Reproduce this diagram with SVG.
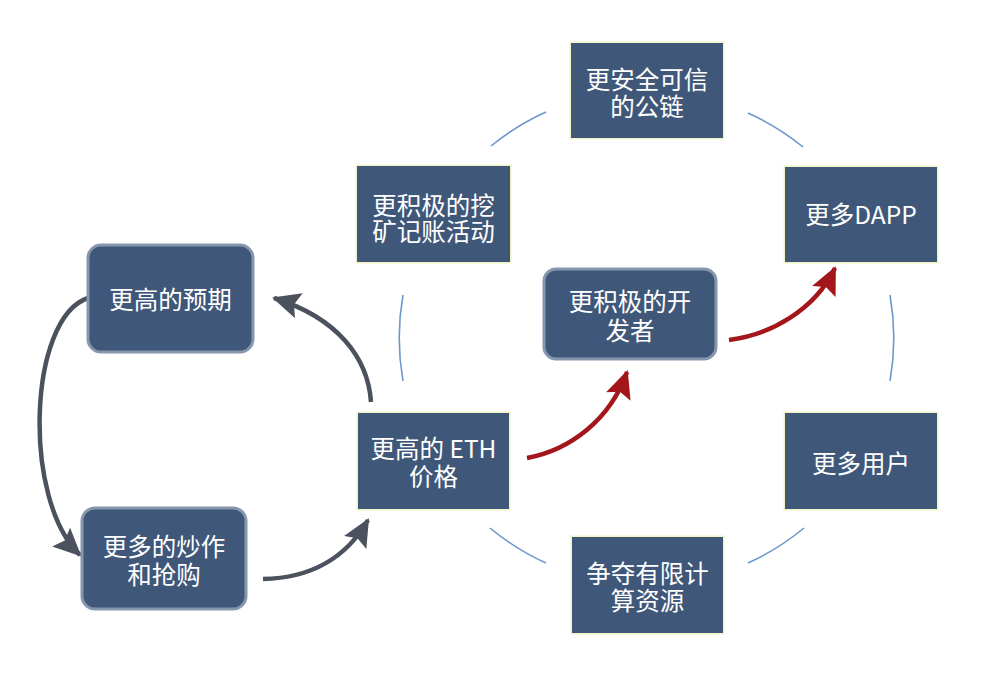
<svg xmlns="http://www.w3.org/2000/svg" width="1000" height="690" viewBox="0 0 1000 690">
<defs>
<style>
.box{fill:#3f5879;}
.glow{fill:#eef0b8;opacity:0.8;}
.rbox{fill:#3f5879;stroke:#8596ad;stroke-width:3;}
.t{fill:#ffffff;font-family:"Noto Sans CJK SC","Noto Sans",sans-serif;font-size:24.5px;text-anchor:middle;dominant-baseline:central;}
.arc{fill:none;stroke:#6b97cc;stroke-width:1.6;}
.gray{fill:none;stroke:#4b525d;stroke-width:4.5;}
.red{fill:none;stroke:#a3161a;stroke-width:4.5;}
</style>
<marker id="ag" markerUnits="userSpaceOnUse" markerWidth="28" markerHeight="26" refX="26" refY="13" orient="auto">
<path d="M0,0 L28,13 L0,26 L5,13 z" fill="#4b525d"/>
</marker>
<marker id="ar" markerUnits="userSpaceOnUse" markerWidth="28" markerHeight="26" refX="26" refY="13" orient="auto">
<path d="M0,0 L28,13 L0,26 L5,13 z" fill="#a3161a"/>
</marker>
</defs>
<rect width="1000" height="690" fill="#ffffff"/>
<g id="connectors">
<path class="arc" d="M491,146 A247,247 0 0 1 546,112"/>
<path class="arc" d="M748,113 A247,247 0 0 1 803,147"/>
<path class="arc" d="M890,295 A247,247 0 0 1 890,381"/>
<path class="arc" d="M804,528 A247,247 0 0 1 748,563"/>
<path class="arc" d="M546,563 A247,247 0 0 1 490,528"/>
<path class="arc" d="M403,381 A247,247 0 0 1 403,295"/>
<path class="gray" d="M371,402 C368,358 338,318 274,298" marker-end="url(#ag)"/>
<path class="gray" d="M88,298 C28,318 22,500 80,555" marker-end="url(#ag)"/>
<path class="gray" d="M263,579 C310,578 345,560 368,520" marker-end="url(#ag)"/>
<path class="red" d="M527,458 C570,450 610,420 627,372" marker-end="url(#ar)"/>
<path class="red" d="M729,340 C770,335 815,310 835,268" marker-end="url(#ar)"/>
</g>
<g id="n-chain">
<rect class="glow" x="569.5" y="41.5" width="155" height="98"/>
<rect class="box" x="571" y="43" width="152" height="95"/>
<text class="t" x="647"><tspan x="647" y="78">更安全可信</tspan><tspan x="647" y="105">的公链</tspan></text>
</g>
<g id="n-mining">
<rect class="glow" x="355.5" y="164.5" width="156" height="99"/>
<rect class="box" x="357" y="166" width="153" height="96"/>
<text class="t" x="433.5"><tspan x="433.5" y="204">更积极的挖</tspan><tspan x="433.5" y="230">矿记账活动</tspan></text>
</g>
<g id="n-dapp">
<rect class="glow" x="783.5" y="165.5" width="155" height="98"/>
<rect class="box" x="785" y="167" width="152" height="95"/>
<text class="t" x="861" y="213">更多DAPP</text>
</g>
<g id="n-users">
<rect class="glow" x="783.5" y="411.5" width="155" height="99"/>
<rect class="box" x="785" y="413" width="152" height="96"/>
<text class="t" x="861" y="462">更多用户</text>
</g>
<g id="n-compute">
<rect class="glow" x="570.5" y="535.5" width="154" height="99"/>
<rect class="box" x="572" y="537" width="151" height="96"/>
<text class="t" x="647.5"><tspan x="647.5" y="572">争夺有限计</tspan><tspan x="647.5" y="599">算资源</tspan></text>
</g>
<g id="n-eth">
<rect class="glow" x="356.5" y="411.5" width="154" height="99"/>
<rect class="box" x="358" y="413" width="151" height="96"/>
<text class="t" x="433.5"><tspan x="433.5" y="447">更高的 ETH</tspan><tspan x="433.5" y="475">价格</tspan></text>
</g>
<g id="n-dev">
<rect class="rbox" x="544" y="269" width="172" height="90" rx="12"/>
<text class="t" x="630"><tspan x="630" y="300">更积极的开</tspan><tspan x="630" y="329">发者</tspan></text>
</g>
<g id="n-expect">
<rect class="rbox" x="88" y="245" width="165" height="107" rx="13"/>
<text class="t" x="170.5" y="298">更高的预期</text>
</g>
<g id="n-hype">
<rect class="rbox" x="82" y="508" width="164" height="101" rx="13"/>
<text class="t" x="164"><tspan x="164" y="545">更多的炒作</tspan><tspan x="164" y="573">和抢购</tspan></text>
</g>
</svg>
